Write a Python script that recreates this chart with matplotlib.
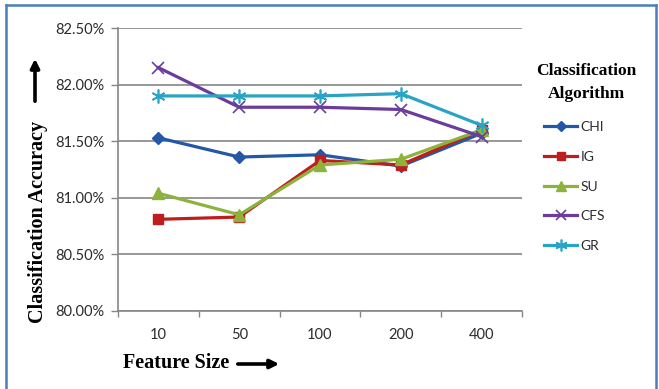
import numpy as np
import matplotlib.pyplot as plt
from matplotlib.lines import Line2D

# feature sizes on the x axis and accuracy (%) per selection algorithm
featureSizes = ['10', '50', '100', '200', '400']
chi = [81.53, 81.36, 81.38, 81.28, 81.57]
ig = [80.81, 80.83, 81.33, 81.29, 81.60]
su = [81.04, 80.85, 81.29, 81.34, 81.60]
cfs = [82.15, 81.80, 81.80, 81.78, 81.54]
gr = [81.90, 81.90, 81.90, 81.92, 81.64]
yTicks = [80.0, 80.5, 81.0, 81.5, 82.0, 82.5]

W, H = 659, 389
fig = plt.figure(figsize=(W / 100, H / 100), dpi=100)

def fx(x):
    return x / W

def fy(y):
    return 1 - y / H

# plot area in pixel terms: left 118, right 522, top 28, bottom 311
ax = fig.add_axes([fx(118), fy(311), (522 - 118) / W, (311 - 28) / H])

series = [
    ('CHI', chi, '#2458a6', dict(marker='D', markersize=6)),
    ('IG', ig, '#be1e1e', dict(marker='s', markersize=7.5)),
    ('SU', su, '#8db33c', dict(marker='^', markersize=8)),
    ('CFS', cfs, '#6a3d9c', dict(marker='x', markersize=9, markeredgewidth=1.2)),
    ('GR', gr, '#2aa4c5', dict(marker=(6, 2, 0), markersize=10, markeredgewidth=1.2)),
]

xpos = np.arange(len(featureSizes))
handles = []
for name, vals, col, mk in series:
    line, = ax.plot(xpos, vals, color=col, lw=2.3, markerfacecolor=col,
                    markeredgecolor=col, label=name, **mk)
    handles.append(line)

ax.set_xlim(-0.5, len(featureSizes) - 0.5)
ax.set_ylim(80.0, 82.5)
ax.set_yticks(yTicks)
ax.set_yticklabels(['%.2f%%' % v for v in yTicks])
ax.set_xticks(xpos)
ax.set_xticklabels(featureSizes)
# small tick marks sit between the categories
ax.set_xticks(np.arange(-0.5, len(featureSizes), 1.0), minor=True)
ax.tick_params(axis='x', which='major', length=0, pad=12)
ax.tick_params(axis='x', which='minor', length=4, color='#868686', width=1)
ax.tick_params(axis='y', length=5, color='#868686', width=1, pad=5)
for lab in ax.get_xticklabels() + ax.get_yticklabels():
    lab.set_fontfamily('Lato')
    lab.set_fontsize(10.5)
    lab.set_color('#2b2b2b')

ax.grid(axis='y', color='#868686', lw=1.2)
ax.set_axisbelow(True)
for s in ['top', 'right']:
    ax.spines[s].set_visible(False)
for s in ['left', 'bottom']:
    ax.spines[s].set_color('#868686')
    ax.spines[s].set_linewidth(1.2)

serif = dict(fontfamily='Liberation Serif', fontweight='bold', color='black')

# axis titles with arrows
fig.text(fx(38), fy(222), 'Classification Accuracy', rotation=90,
         ha='center', va='center', fontsize=14.5, **serif)
ax.annotate('', xy=(35, H - 56), xytext=(35, H - 104), xycoords='figure pixels',
            textcoords='figure pixels',
            arrowprops=dict(arrowstyle='-|>', lw=2.6, color='black', mutation_scale=13))
fig.text(fx(123), fy(363), 'Feature Size', ha='left', va='center',
         fontsize=14.5, **serif)
ax.annotate('', xy=(282, H - 364), xytext=(235, H - 364), xycoords='figure pixels',
            textcoords='figure pixels',
            arrowprops=dict(arrowstyle='-|>', lw=2.6, color='black', mutation_scale=13))

# legend
fig.text(fx(586), fy(71), 'Classification', ha='center', va='center',
         fontsize=12.5, **serif)
fig.text(fx(586), fy(94), 'Algorithm', ha='center', va='center',
         fontsize=12.5, **serif)
leg = fig.legend(handles=handles, loc='upper left',
                 bbox_to_anchor=(fx(544), fy(121)), frameon=False,
                 prop={'family': 'Lato', 'size': 10}, handlelength=2.4,
                 handletextpad=0.25, labelspacing=1.28, borderaxespad=0,
                 borderpad=0, markerscale=0.85)
for t in leg.get_texts():
    t.set_color('#2b2b2b')

# blue frame around the whole chart (open at the bottom)
fc = '#4a7ebb'
fig.add_artist(Line2D([fx(6), fx(6)], [fy(5), 0], color=fc, lw=1.8))
fig.add_artist(Line2D([fx(6), fx(656)], [fy(5), fy(5)], color=fc, lw=1.8))
fig.add_artist(Line2D([fx(656), fx(656)], [fy(5), 0], color=fc, lw=1.8))

fig.savefig('out.png', dpi=100)
